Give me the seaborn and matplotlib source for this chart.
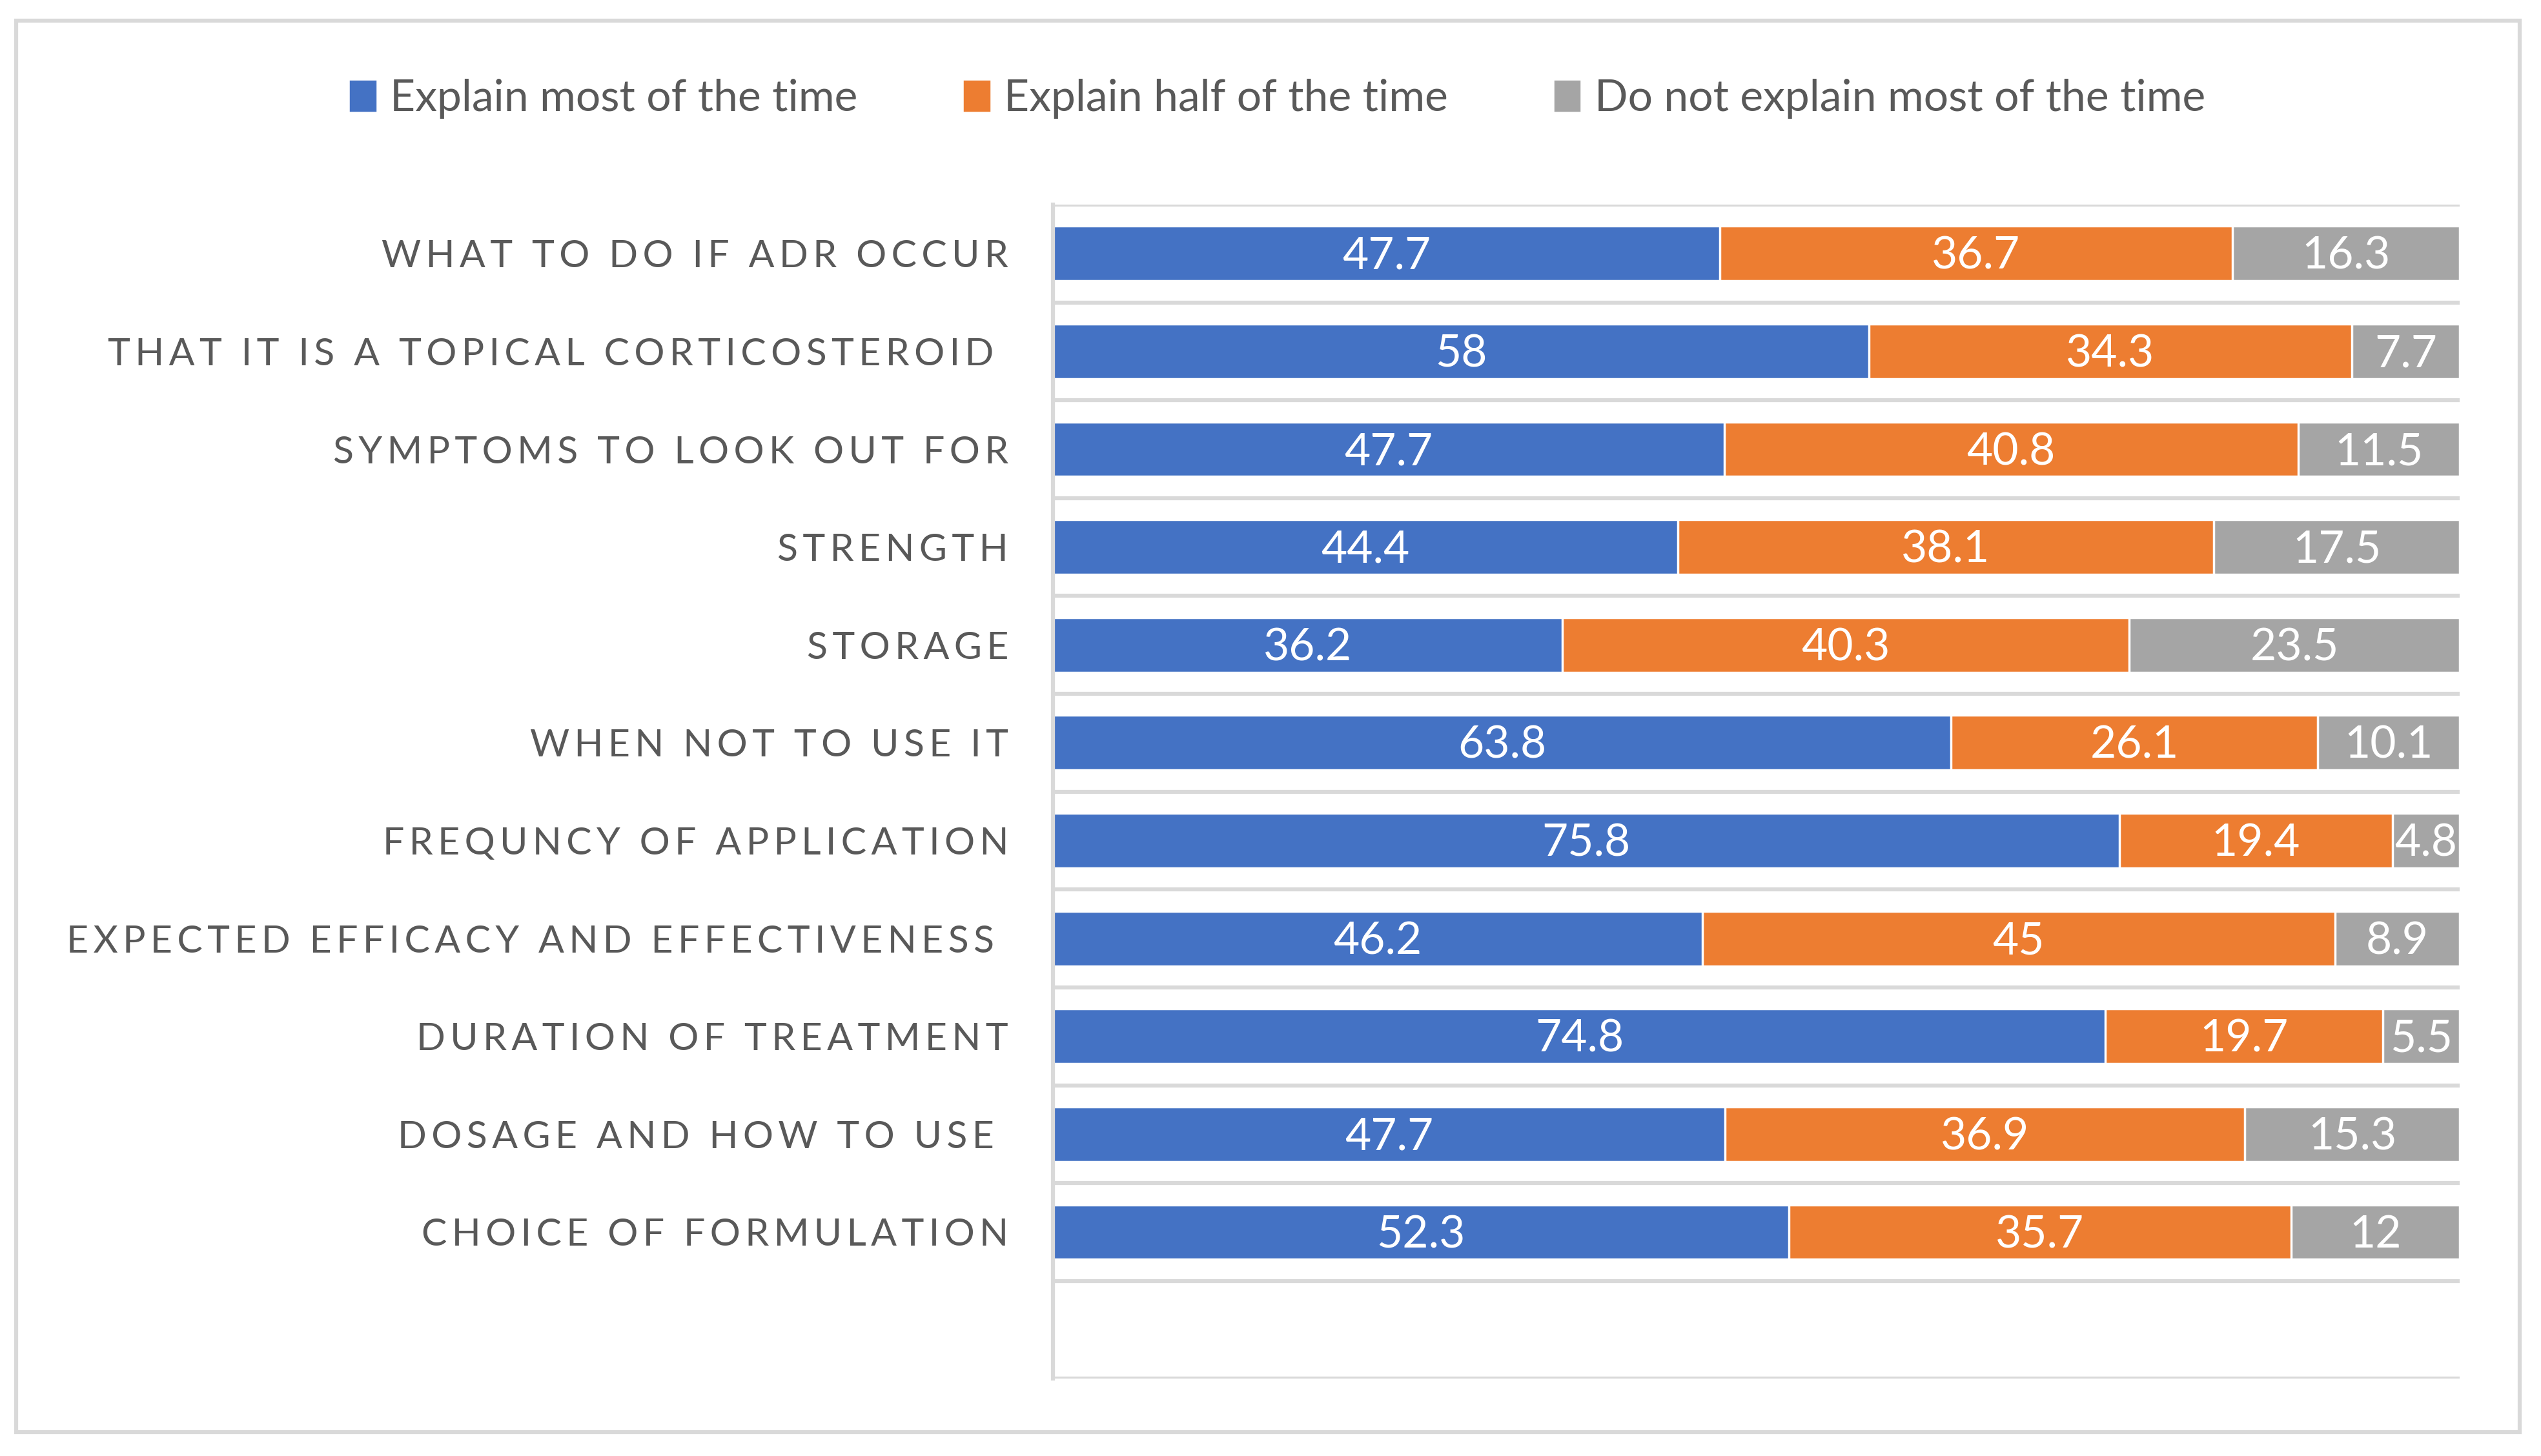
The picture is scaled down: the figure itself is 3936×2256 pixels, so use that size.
import numpy as np
import pandas as pd
import matplotlib.pyplot as plt
import seaborn as sns
from matplotlib.patches import Patch, Rectangle

# Data (top to bottom)
items = ["WHAT TO DO IF ADR OCCUR",
         "THAT IT IS A TOPICAL CORTICOSTEROID ",
         "SYMPTOMS TO LOOK OUT FOR",
         "STRENGTH",
         "STORAGE",
         "WHEN NOT TO USE IT",
         "FREQUNCY OF APPLICATION",
         "EXPECTED EFFICACY AND EFFECTIVENESS ",
         "DURATION OF TREATMENT",
         "DOSAGE AND HOW TO USE ",
         "CHOICE OF FORMULATION"]
most = [47.7, 58, 47.7, 44.4, 36.2, 63.8, 75.8, 46.2, 74.8, 47.7, 52.3]
half = [36.7, 34.3, 40.8, 38.1, 40.3, 26.1, 19.4, 45, 19.7, 36.9, 35.7]
never = [16.3, 7.7, 11.5, 17.5, 23.5, 10.1, 4.8, 8.9, 5.5, 15.3, 12]
series = ["Explain most of the time", "Explain half of the time",
          "Do not explain most of the time"]
colors = ["#4472C4", "#ED7D31", "#A5A5A5"]

df = pd.DataFrame({"item": items, "most": most, "half": half, "never": never})
cols = ["most", "half", "never"]
# 100% stacked: each row scaled to a total of 100
total = df[cols].sum(axis=1)
for c in cols:
    df[c + "_pct"] = df[c] / total * 100
df["cum1"] = df["most_pct"]
df["cum2"] = df["most_pct"] + df["half_pct"]
df["cum3"] = df["cum2"] + df["never_pct"]

sns.set_style("white")
plt.rcParams["font.family"] = ["Lato", "DejaVu Sans"]

def spaced(s):
    # mimic the wide letter tracking of the category labels
    return "\u2009".join(list(s))

fig = plt.figure(figsize=(15.744, 9.024), dpi=250)
ax = fig.add_axes([0.4145, 0.053, 0.5536, 0.8065])

# layered bars = stacked bars
for cum, col in zip(["cum3", "cum2", "cum1"], colors[::-1]):
    sns.barplot(data=df, x=cum, y="item", order=items, color=col,
                saturation=1, width=0.56, errorbar=None, ax=ax)

# value labels centred in each segment
lefts = [np.zeros(len(df)), df["cum1"].values, df["cum2"].values]
for c, left in zip(cols, lefts):
    for j in range(len(df)):
        ax.text(left[j] + df[c + "_pct"].iloc[j] / 2, j + 0.03, f"{df[c].iloc[j]:g}",
                ha="center", va="center", color="white", fontsize=20)

ax.set_xlim(0, 100)
ax.set_ylim(11.5, -0.5)
ax.set_xticks([])
ax.set_xlabel("")
ax.set_ylabel("")
ax.set_yticks(range(len(items)))
ax.set_yticklabels([spaced(s) for s in items], fontsize=17, color="#595959")
ax.set_yticks(np.arange(-0.5, 11.6, 1), minor=True)
ax.tick_params(axis="y", which="both", length=0, pad=20)
ax.grid(axis="y", which="minor", color="#D9D9D9", lw=1.8)
ax.grid(axis="y", which="major", visible=False)
for gl in ax.get_ygridlines():
    gl.set_clip_on(False)
ax.set_axisbelow(True)
for s in ["top", "right", "bottom"]:
    ax.spines[s].set_visible(False)
ax.spines["left"].set_color("#D9D9D9")
ax.spines["left"].set_linewidth(1.8)

handles = [Patch(color=c) for c in colors]
fig.legend(handles, series, loc="center", bbox_to_anchor=(0.503, 0.932), ncol=3,
           frameon=False, fontsize=19.5, labelcolor="#595959",
           handlelength=0.55, handleheight=0.65, handletextpad=0.35,
           columnspacing=2.45)

fig.add_artist(Rectangle((0.0064, 0.0166), 0.9853, 0.969, transform=fig.transFigure,
                         fill=False, ec="#D9D9D9", lw=1.8))

fig.savefig("out.png", dpi=250, facecolor="white")
